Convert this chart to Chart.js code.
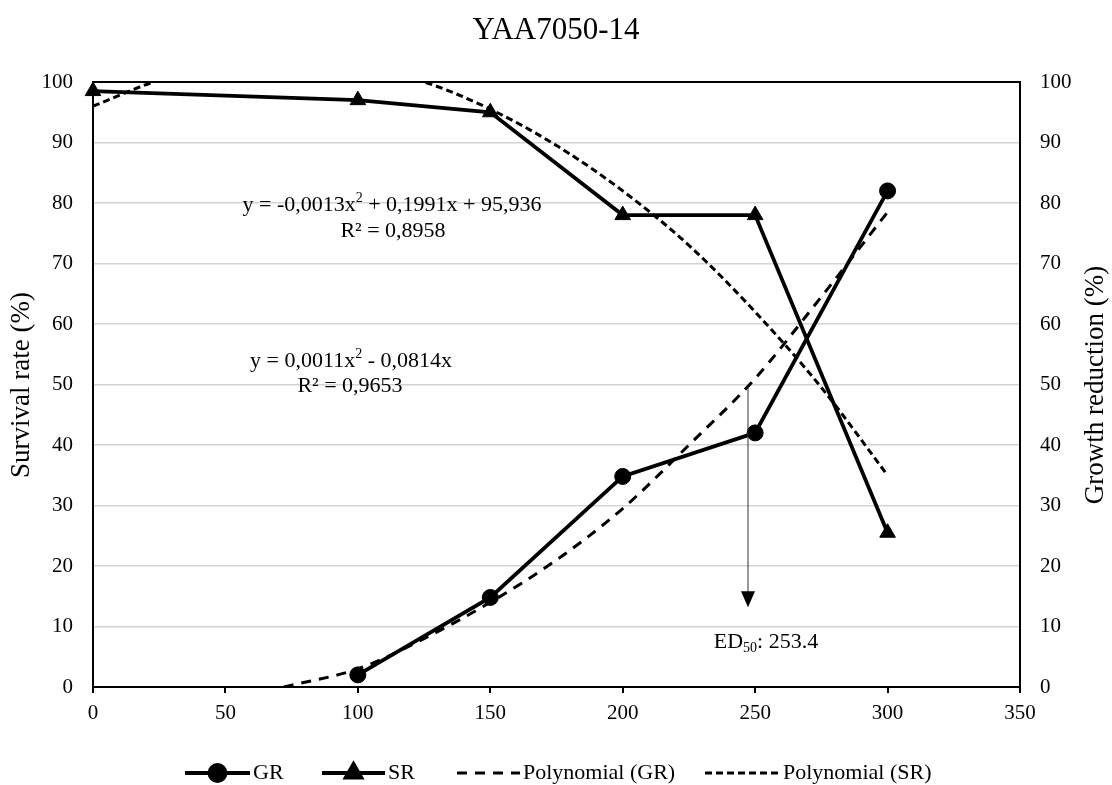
<!DOCTYPE html>
<html>
<head>
<meta charset="utf-8">
<script src="https://cdn.jsdelivr.net/npm/chart.js@4.4.1/dist/chart.umd.min.js"></script>
<style>
  html, body { margin: 0; padding: 0; background: #fff; }
  #wrap { width: 1112px; height: 785px; position: relative; }
</style>
</head>
<body>
<div id="wrap"><canvas id="chart"></canvas></div>
<script>
// ---- data ----
const chartTitle = "YAA7050-14";
const leftTitle = "Survival rate (%)";
const rightTitle = "Growth reduction (%)";

const srDoses = [0, 100, 150, 200, 250, 300];
const srValues = [98.5, 97, 95, 78, 78, 25.5];

const grDoses = [100, 150, 200, 250, 300];
const grValues = [2, 14.8, 34.8, 42, 82];

// trendlines
const grFitX = [72, 100, 125, 150, 175, 200, 225, 250, 275, 300];
const grFitY = [0, 3, 8, 14, 21, 29.5, 40, 51, 64.5, 78.5];
const srFitX = [0, 25, 50, 75, 100, 125, 150, 175, 200, 225, 250, 275, 300];
const srFitY = [96, 100.3, 102.5, 103, 102.5, 100, 95.5, 89.5, 82, 73, 62, 49.5, 35];

const xTicks = [0, 50, 100, 150, 200, 250, 300, 350];
const yTicks = [0, 10, 20, 30, 40, 50, 60, 70, 80, 90, 100];

const srEquation = ["y = -0,0013x", "2", " + 0,1991x + 95,936"];
const srR2 = "R² = 0,8958";
const grEquation = ["y = 0,0011x", "2", " - 0,0814x"];
const grR2 = "R² = 0,9653";

// ED50 arrow: from the GR trendline down to the label
const edArrowX = 247.3;
const edArrowFrom = 49.6;
const edArrowTo = 13.2;
const edValue = "253.4";

const serif = "'Liberation Serif', 'Times New Roman', serif";

// legend layout (left edge of each sample line and its length)
const legendStarts = [185, 322, 457, 705];
const legendSampleW = [65, 63, 63, 75];

function pts(xs, ys) {
    return xs.map((x, i) => ({ x: x, y: ys[i] }));
}

// draws text pieces with a superscript / subscript piece, centred on cx
function drawPieces(ctx, pieces, cx, cy) {
    let total = 0;
    pieces.forEach(p => {
        ctx.font = p.size + "px " + serif;
        p.w = ctx.measureText(p.t).width;
        total += p.w;
    });
    let x = cx - total / 2;
    ctx.textAlign = "left";
    ctx.textBaseline = "middle";
    pieces.forEach(p => {
        ctx.font = p.size + "px " + serif;
        ctx.fillText(p.t, x, cy + (p.dy || 0));
        x += p.w;
    });
}

function drawLegendSample(ctx, ds, x, y, w) {
    ctx.save();
    ctx.strokeStyle = "#000";
    ctx.fillStyle = "#000";
    ctx.lineWidth = ds.borderWidth;
    ctx.setLineDash(ds.borderDash || []);
    ctx.beginPath();
    ctx.moveTo(x, y);
    ctx.lineTo(x + w, y);
    ctx.stroke();
    ctx.setLineDash([]);
    if (ds.pointRadius > 0) {
        Chart.helpers.drawPoint(ctx, {
            pointStyle: ds.pointStyle,
            radius: ds.pointRadius,
            rotation: 0,
            borderWidth: 1
        }, x + w / 2, y);
    }
    ctx.restore();
}

const decorPlugin = {
    id: "decor",
    beforeDatasetsDraw(chart) {
        const { ctx, chartArea: a } = chart;
        ctx.save();
        ctx.strokeStyle = "#000";
        ctx.lineWidth = 2;
        ctx.strokeRect(a.left, a.top, a.right - a.left, a.bottom - a.top);
        ctx.restore();
    },
    afterDraw(chart) {
        const { ctx, chartArea: a } = chart;
        const xs = chart.scales.x, ys = chart.scales.y;
        ctx.save();
        ctx.fillStyle = "#000";

        // title
        ctx.font = "31px " + serif;
        ctx.textAlign = "center";
        ctx.textBaseline = "middle";
        ctx.fillText(chartTitle, 556, 31);

        // axis titles, both read bottom to top
        ctx.font = "27px " + serif;
        ctx.save();
        ctx.translate(22, 385);
        ctx.rotate(-Math.PI / 2);
        ctx.fillText(leftTitle, 0, 0);
        ctx.restore();
        ctx.save();
        ctx.translate(1096, 385);
        ctx.rotate(-Math.PI / 2);
        ctx.fillText(rightTitle, 0, 0);
        ctx.restore();

        // trendline equations
        drawPieces(ctx, [
            { t: srEquation[0], size: 22 },
            { t: srEquation[1], size: 14, dy: -7 },
            { t: srEquation[2], size: 22 }
        ], 392, 205);
        drawPieces(ctx, [{ t: srR2, size: 22 }], 393, 231);
        drawPieces(ctx, [
            { t: grEquation[0], size: 22 },
            { t: grEquation[1], size: 14, dy: -7 },
            { t: grEquation[2], size: 22 }
        ], 351, 361);
        drawPieces(ctx, [{ t: grR2, size: 22 }], 350, 386);

        // ED50 arrow
        const ax = xs.getPixelForValue(edArrowX);
        const ay0 = ys.getPixelForValue(edArrowFrom);
        const ay1 = ys.getPixelForValue(edArrowTo);
        ctx.strokeStyle = "#333";
        ctx.lineWidth = 1;
        ctx.beginPath();
        ctx.moveTo(ax, ay0);
        ctx.lineTo(ax, ay1 - 14);
        ctx.stroke();
        ctx.beginPath();
        ctx.moveTo(ax - 7, ay1 - 16);
        ctx.lineTo(ax + 7, ay1 - 16);
        ctx.lineTo(ax, ay1);
        ctx.closePath();
        ctx.fill();
        drawPieces(ctx, [
            { t: "ED", size: 22 },
            { t: "50", size: 14, dy: 6 },
            { t: ": " + edValue, size: 22 }
        ], 766, 642);

        // legend
        const ly = 773;
        chart.data.datasets.forEach((ds, i) => {
            const x = legendStarts[i];
            const w = legendSampleW[i];
            drawLegendSample(ctx, ds, x, ly, w);
            ctx.font = "22px " + serif;
            ctx.fillStyle = "#000";
            ctx.textAlign = "left";
            ctx.textBaseline = "middle";
            ctx.fillText(ds.label, x + w + 3, ly);
        });
        ctx.restore();
    }
};

const tickFont = { family: serif, size: 21 };

new Chart(document.getElementById("chart"), {
    type: "line",
    data: {
        datasets: [{
            label: "GR",
            data: pts(grDoses, grValues),
            yAxisID: "y2",
            borderColor: "#000",
            backgroundColor: "#000",
            borderWidth: 3.8,
            pointStyle: "circle",
            pointRadius: 8,
            pointBorderWidth: 1,
            tension: 0,
            clip: false
        }, {
            label: "SR",
            data: pts(srDoses, srValues),
            yAxisID: "y",
            borderColor: "#000",
            backgroundColor: "#000",
            borderWidth: 3.8,
            pointStyle: "triangle",
            pointRadius: 9,
            pointBorderWidth: 1,
            tension: 0,
            clip: false
        }, {
            label: "Polynomial (GR)",
            data: pts(grFitX, grFitY),
            yAxisID: "y2",
            borderColor: "#000",
            borderWidth: 3,
            borderDash: [10, 8],
            pointRadius: 0,
            cubicInterpolationMode: "monotone",
            clip: 0
        }, {
            label: "Polynomial (SR)",
            data: pts(srFitX, srFitY),
            yAxisID: "y",
            borderColor: "#000",
            borderWidth: 3,
            borderDash: [7, 4],
            pointRadius: 0,
            cubicInterpolationMode: "monotone",
            clip: 0
        }]
    },
    options: {
        responsive: true,
        maintainAspectRatio: false,
        animation: false,
        layout: { padding: { top: 82, left: 0, right: 0, bottom: 0 } },
        plugins: {
            legend: { display: false },
            title: { display: false },
            tooltip: { enabled: false }
        },
        scales: {
            x: {
                type: "linear",
                min: 0,
                max: 350,
                afterBuildTicks: s => { s.ticks = xTicks.map(v => ({ value: v })); },
                afterFit: s => { s.height = 98; },
                grid: { drawOnChartArea: false, drawTicks: true, tickLength: 6, color: "#000", lineWidth: 2 },
                border: { display: true, color: "#000", width: 2 },
                ticks: { font: tickFont, color: "#000", padding: 8, maxRotation: 0 }
            },
            y: {
                position: "left",
                min: 0,
                max: 100,
                afterBuildTicks: s => { s.ticks = yTicks.map(v => ({ value: v })); },
                afterFit: s => { s.width = 93; },
                grid: { drawTicks: false, color: "#d4d4d4", lineWidth: 1.5 },
                border: { display: true, color: "#000", width: 2 },
                ticks: { font: tickFont, color: "#000", padding: 20 }
            },
            y2: {
                position: "right",
                min: 0,
                max: 100,
                afterBuildTicks: s => { s.ticks = yTicks.map(v => ({ value: v })); },
                afterFit: s => { s.width = 92; },
                grid: { drawOnChartArea: false, drawTicks: false },
                border: { display: true, color: "#000", width: 2 },
                ticks: { font: tickFont, color: "#000", padding: 20 }
            }
        }
    },
    plugins: [decorPlugin]
});
</script>
</body>
</html>
